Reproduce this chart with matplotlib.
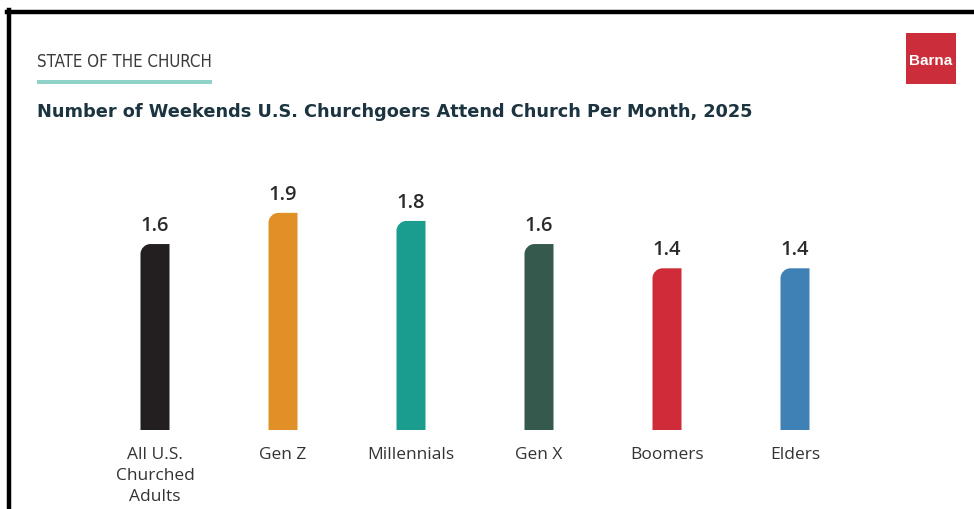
import matplotlib
matplotlib.use("Agg")
import matplotlib.pyplot as plt
from matplotlib.path import Path
from matplotlib.patches import PathPatch, Rectangle
from matplotlib.lines import Line2D

categories = ["All U.S.\nChurched\nAdults", "Gen Z", "Millennials", "Gen X", "Boomers", "Elders"]
values = [1.61, 1.88, 1.81, 1.61, 1.40, 1.40]
value_labels = ["1.6", "1.9", "1.8", "1.6", "1.4", "1.4"]
colors = ["#231f20", "#e09026", "#1a9c8f", "#35594c", "#cf2b38", "#3f80b5"]

W, H = 974, 509
fig = plt.figure(figsize=(W / 100, H / 100), dpi=100)
fig.patch.set_facecolor("white")

def fx(x):
    return x / W

def fy(y):
    return 1 - y / H

def fit_width(txt, target_px):
    r = fig.canvas.get_renderer()
    w = txt.get_window_extent(renderer=r).width
    txt.set_fontsize(txt.get_fontsize() * target_px / w)

# frame lines (top and left)
fig.add_artist(Line2D([fx(7), fx(974)], [fy(12), fy(12)], color="black", lw=3.2, transform=fig.transFigure))
fig.add_artist(Line2D([fx(9), fx(9)], [fy(10), fy(509)], color="black", lw=3.2, transform=fig.transFigure))

# header
t1 = fig.text(fx(37), fy(67), "STATE OF THE CHURCH",
              family=["DejaVu Sans"], stretch="condensed", weight="medium", fontsize=15,
              color="#3a3a3a", ha="left", va="baseline")
fig.add_artist(Rectangle((fx(37), fy(84)), fx(212) - fx(37), fy(80) - fy(84), color="#8fd3c8",
                         transform=fig.transFigure, lw=0))
t2 = fig.text(fx(37), fy(117), "Number of Weekends U.S. Churchgoers Attend Church Per Month, 2025",
              family="DejaVu Sans", weight="bold", fontsize=13, color="#1b3440",
              ha="left", va="baseline")
fit_width(t1, 175)
fit_width(t2, 715)

# Barna logo
fig.add_artist(Rectangle((fx(906), fy(84)), fx(956) - fx(906), fy(33) - fy(84), color="#cc2d3a",
                         transform=fig.transFigure, lw=0))
fig.text(fx(931), fy(65), "Barna", family="Liberation Sans", weight="bold", fontsize=11,
         color="white", ha="center", va="baseline")

# chart axes
ax = fig.add_axes([fx(91), fy(430), fx(859) - fx(91), fy(130) - fy(430)])
ax.set_xlim(-0.5, 5.5)
ax.set_ylim(0, 300 / 115.5)
ax.axis("off")

bar_w = 29 / 128
rx = 10 / 128
ry = 10 / 115.5
k = 0.5523

for i, (v, c) in enumerate(zip(values, colors)):
    l = i - bar_w / 2
    r = i + bar_w / 2
    verts = [(l, 0), (r, 0), (r, v), (l + rx, v),
             (l + rx * (1 - k), v), (l, v - ry * (1 - k)), (l, v - ry),
             (l, 0), (l, 0)]
    codes = [Path.MOVETO, Path.LINETO, Path.LINETO, Path.LINETO,
             Path.CURVE4, Path.CURVE4, Path.CURVE4,
             Path.LINETO, Path.CLOSEPOLY]
    ax.add_patch(PathPatch(Path(verts, codes), facecolor=c, edgecolor="none"))
    ax.annotate(value_labels[i], (i, v), xytext=(0, 9.5), textcoords="offset points",
                ha="center", va="baseline", family="Open Sans", weight="semibold",
                fontsize=14.5, color="#2a2a2a")
    ax.annotate(categories[i], (i, 0), xytext=(0, -12), textcoords="offset points",
                ha="center", va="top", family="Open Sans", fontsize=12.5,
                color="#333333", linespacing=1.42, multialignment="center")

fig.savefig("out.png", dpi=100, facecolor="white")
